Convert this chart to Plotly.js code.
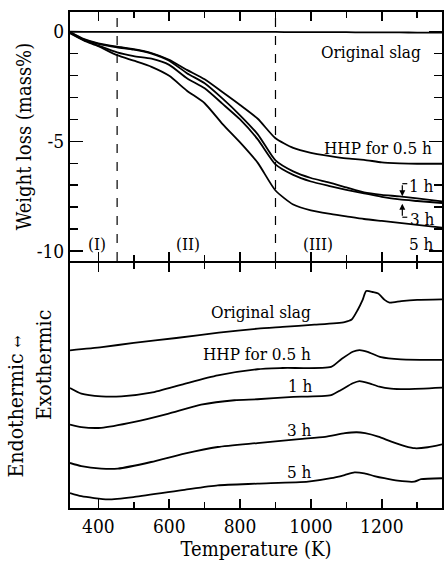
<!DOCTYPE html>
<html>
<head>
<meta charset="utf-8">
<script src="https://cdn.plot.ly/plotly-3.0.1.min.js"></script>
<style>
  html, body { margin: 0; padding: 0; background: #fff; }
  #chart { width: 444px; height: 568px; }
</style>
</head>
<body>
<div id="chart"></div>
<script>
// ---- Thermogravimetry (TG): weight loss, mass% ----
const tgTemp = [320, 360, 400, 453, 500, 550, 600, 650, 700, 750, 800, 850, 900, 950, 1000, 1050, 1100, 1150, 1200, 1250, 1300, 1370];
const tgOriginal = [0, -0.01, -0.01, -0.01, -0.01, -0.01, -0.01, -0.01, -0.01, -0.01, -0.01, -0.01, -0.01, -0.02, -0.02, -0.02, -0.02, -0.03, -0.03, -0.03, -0.04, -0.04];
const tgHHP05 = [-0.02, -0.34, -0.53, -0.68, -0.79, -0.97, -1.28, -1.74, -2.17, -2.75, -3.34, -3.97, -4.86, -5.30, -5.52, -5.66, -5.78, -5.84, -5.96, -6.00, -6.02, -6.02];
const tgHHP1 = [-0.02, -0.36, -0.55, -0.71, -0.82, -1.00, -1.32, -1.89, -2.35, -3.04, -3.81, -4.68, -5.87, -6.37, -6.67, -6.87, -7.10, -7.33, -7.44, -7.51, -7.60, -7.74];
const tgHHP3 = [-0.05, -0.39, -0.63, -0.94, -1.11, -1.23, -1.51, -2.12, -2.58, -3.28, -4.00, -4.91, -6.05, -6.53, -6.83, -7.03, -7.21, -7.37, -7.53, -7.65, -7.72, -7.81];
const tgHHP5 = [-0.07, -0.41, -0.66, -1.07, -1.32, -1.60, -2.01, -2.69, -3.26, -4.20, -5.05, -5.98, -7.24, -7.88, -8.15, -8.30, -8.42, -8.54, -8.63, -8.72, -8.81, -8.93];

// Stage boundaries (K) separating regions (I), (II), (III)
const stageBounds = [453, 900];
const stageNames = ['(I)', '(II)', '(III)'];
const stageLabelTemp = [396, 654, 1019];

// ---- Differential thermal analysis (DTA), arbitrary units, curves stacked ----
const dtaTempOriginal = [320, 410, 500, 620, 740, 850, 920, 1010, 1095, 1115, 1132, 1146, 1156, 1175, 1190, 1208, 1222, 1255, 1300, 1370];
const dtaOriginal = [6.41, 6.54, 6.71, 6.91, 7.13, 7.29, 7.36, 7.45, 7.56, 7.66, 8.05, 8.46, 8.82, 8.78, 8.72, 8.46, 8.35, 8.41, 8.46, 8.48];
const dtaTempHHP05 = [320, 352, 408, 465, 549, 643, 737, 849, 920, 1057, 1085, 1118, 1137, 1160, 1198, 1254, 1370];
const dtaHHP05 = [4.88, 4.65, 4.54, 4.54, 4.69, 5.05, 5.39, 5.64, 5.69, 5.74, 6.04, 6.35, 6.42, 6.35, 6.13, 6.04, 6.02];
const dtaTempHHP1 = [320, 352, 408, 502, 596, 690, 784, 849, 939, 1057, 1085, 1118, 1137, 1160, 1193, 1226, 1273, 1370];
const dtaHHP1 = [3.39, 3.29, 3.26, 3.50, 3.83, 4.20, 4.38, 4.42, 4.51, 4.59, 4.80, 5.07, 5.16, 5.09, 4.93, 4.85, 4.83, 4.89];
const dtaTempHHP3 = [320, 352, 408, 455, 549, 643, 737, 849, 967, 1040, 1096, 1129, 1153, 1190, 1227, 1265, 1293, 1330, 1370];
const dtaHHP3 = [1.83, 1.70, 1.60, 1.60, 1.87, 2.21, 2.48, 2.64, 2.80, 2.89, 3.04, 3.08, 3.04, 2.90, 2.70, 2.52, 2.43, 2.47, 2.59];
const dtaTempHHP5 = [320, 352, 427, 502, 643, 737, 849, 992, 1057, 1095, 1123, 1151, 1179, 1207, 1245, 1292, 1311, 1370];
const dtaHHP5 = [0.61, 0.48, 0.35, 0.45, 0.74, 0.92, 0.99, 1.07, 1.21, 1.34, 1.45, 1.41, 1.30, 1.21, 1.11, 1.07, 1.17, 1.21];

const xTickVals = [400, 600, 800, 1000, 1200];
const yTickVals = [-10, -5, 0];
const yTickText = ['-10', '-5', '0'];

const FONT = '"DejaVu Serif Condensed", "DejaVu Serif", serif';
const INK = '#000';
const LABEL_SIZE = 17;
const TICK_SIZE = 19;
const TITLE_SIZE = 20;

// minor tick positions: every 100 K on x, every 1 mass% on y
const xMinor = [];
for (let t = 400; t <= 1300; t += 100) if (t % 200 !== 0) xMinor.push(t);
const yMinor = [];
for (let v = -10; v <= 0; v += 1) if (v % 5 !== 0) yMinor.push(v);

function curve(x, y, xa, ya) {
  return {
    x: x, y: y, xaxis: xa, yaxis: ya, type: 'scatter', mode: 'lines',
    line: { color: INK, width: 1.8, shape: 'spline', smoothing: 0.6 },
    hoverinfo: 'skip', showlegend: false
  };
}

const data = [
  curve(tgTemp, tgOriginal, 'x2', 'y2'),
  curve(tgTemp, tgHHP05, 'x2', 'y2'),
  curve(tgTemp, tgHHP1, 'x2', 'y2'),
  curve(tgTemp, tgHHP3, 'x2', 'y2'),
  curve(tgTemp, tgHHP5, 'x2', 'y2'),
  curve(dtaTempOriginal, dtaOriginal, 'x', 'y'),
  curve(dtaTempHHP05, dtaHHP05, 'x', 'y'),
  curve(dtaTempHHP1, dtaHHP1, 'x', 'y'),
  curve(dtaTempHHP3, dtaHHP3, 'x', 'y'),
  curve(dtaTempHHP5, dtaHHP5, 'x', 'y')
];

const axisCommon = {
  showline: true, linecolor: INK, linewidth: 2, mirror: 'ticks',
  ticks: 'inside', tickcolor: INK, tickwidth: 1.5,
  showgrid: false, zeroline: false,
  tickfont: { family: FONT, size: TICK_SIZE, color: INK }
};
const xMinorSpec = { tickmode: 'array', tickvals: xMinor, ticklen: 6, ticks: 'inside', tickcolor: INK, tickwidth: 1.5, showgrid: false };

// the two panels share one 2 px divider: the lower panel's top edge sits 2 px below the upper panel's bottom edge
const PLOT_H = 496;
const TSPLIT = 246 / PLOT_H;
const GAP = 1 / PLOT_H;

const layout = {
  width: 444, height: 568,
  margin: { l: 70, r: 2, t: 12, b: 60 },
  paper_bgcolor: '#fff', plot_bgcolor: '#fff',
  font: { family: FONT, color: INK },
  showlegend: false,
  xaxis: Object.assign({}, axisCommon, {
    anchor: 'y', domain: [0, 1], range: [320, 1370],
    tickmode: 'array', tickvals: xTickVals, ticklen: 9,
    minor: xMinorSpec,
    title: { text: 'Temperature (K)', font: { family: FONT, size: TITLE_SIZE, color: INK }, standoff: 6 }
  }),
  yaxis: Object.assign({}, axisCommon, {
    anchor: 'x', domain: [0, TSPLIT - GAP], range: [0, 10 - 0.041],
    ticks: '', showticklabels: false, mirror: true
  }),
  xaxis2: Object.assign({}, axisCommon, {
    anchor: 'y2', matches: 'x', range: [320, 1370],
    tickmode: 'array', tickvals: xTickVals, ticklen: 9, showticklabels: false,
    minor: xMinorSpec
  }),
  yaxis2: Object.assign({}, axisCommon, {
    anchor: 'x2', domain: [TSPLIT + GAP, 1], range: [-10.5 + 0.044, 0.9],
    tickmode: 'array', tickvals: yTickVals, ticktext: yTickText, ticklen: 13,
    minor: { tickmode: 'array', tickvals: yMinor, ticklen: 8, ticks: 'inside', tickcolor: INK, tickwidth: 1.5, showgrid: false },
    title: { text: 'Weight loss (mass%)', font: { family: FONT, size: TITLE_SIZE, color: INK }, standoff: 0 }
  }),
  shapes: stageBounds.map(t => ({
    type: 'line', xref: 'x2', yref: 'y2 domain', x0: t, x1: t, y0: 0, y1: 1,
    line: { color: INK, width: 1.2, dash: 'dash' }
  })),
  annotations: []
};

const ann = layout.annotations;
function label(text, x, y, xref, yref, xanchor) {
  ann.push({ text: text, x: x, y: y, xref: xref, yref: yref, xanchor: xanchor || 'center', yanchor: 'middle',
    showarrow: false, font: { family: FONT, size: LABEL_SIZE, color: INK } });
}

// TG curve labels (right side of the upper panel)
label('Original slag', 1316, -0.94, 'x2', 'y2', 'right');
label('HHP for 0.5 h', 1347, -5.32, 'x2', 'y2', 'right');
label('1 h', 1352, -7.05, 'x2', 'y2', 'right');
label('3 h', 1355, -8.52, 'x2', 'y2', 'right');
label('5 h', 1352, -9.66, 'x2', 'y2', 'right');

// Stage labels
stageNames.forEach((s, i) => label(s, stageLabelTemp[i], -9.66, 'x2', 'y2', 'center'));

// DTA curve labels
label('Original slag', 858, 7.97, 'x', 'y');
label('HHP for 0.5 h', 849, 6.26, 'x', 'y');
label('1 h', 970, 4.96, 'x', 'y');
label('3 h', 967, 3.17, 'x', 'y');
label('5 h', 967, 1.46, 'x', 'y');

// Bracket arrows pointing at the 1 h and 3 h weight-loss curves
ann.push({ x: 1258, y: -7.50, ax: 1258, ay: -6.93, xref: 'x2', yref: 'y2', axref: 'x2', ayref: 'y2',
  text: '', showarrow: true, arrowhead: 2, arrowsize: 1, arrowwidth: 1.2, arrowcolor: INK });
ann.push({ x: 1258, y: -7.84, ax: 1258, ay: -8.46, xref: 'x2', yref: 'y2', axref: 'x2', ayref: 'y2',
  text: '', showarrow: true, arrowhead: 2, arrowsize: 1, arrowwidth: 1.2, arrowcolor: INK });
layout.shapes.push(
  { type: 'line', xref: 'x2', yref: 'y2', x0: 1258, x1: 1272, y0: -6.93, y1: -6.93, line: { color: INK, width: 1.2 } },
  { type: 'line', xref: 'x2', yref: 'y2', x0: 1258, x1: 1272, y0: -8.46, y1: -8.46, line: { color: INK, width: 1.2 } }
);

// Rotated DTA axis caption, two lines
ann.push({ text: 'Endothermic <span style="font-size:16px">\u2194</span>', xref: 'paper', yref: 'paper',
  x: -0.145, y: 0.205, xanchor: 'center', yanchor: 'middle', textangle: -90, showarrow: false,
  font: { family: FONT, size: 21, color: INK } });
ann.push({ text: 'Exothermic', xref: 'paper', yref: 'paper',
  x: -0.07, y: 0.288, xanchor: 'center', yanchor: 'middle', textangle: -90, showarrow: false,
  font: { family: FONT, size: 21, color: INK } });

Plotly.newPlot('chart', data, layout, { staticPlot: true, displayModeBar: false });
</script>
</body>
</html>
